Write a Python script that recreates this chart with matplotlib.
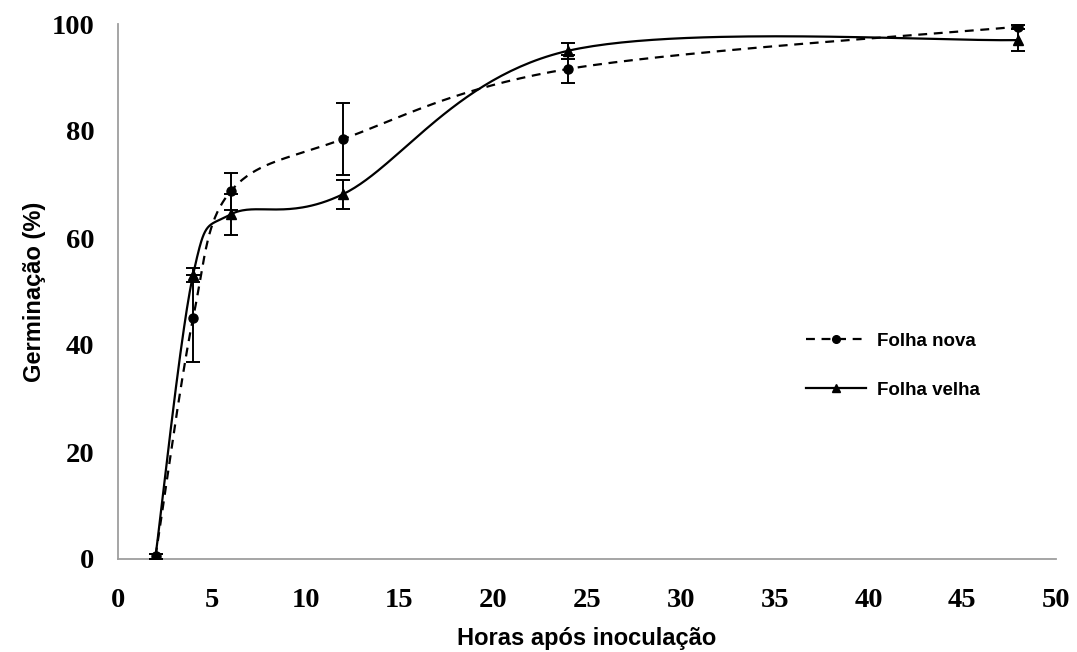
import numpy as np
import matplotlib
matplotlib.use("Agg")
import matplotlib.pyplot as plt
from matplotlib.lines import Line2D

# Data
horas = [2, 4, 6, 12, 24, 48]
folha_nova = [0.5, 45.0, 68.7, 78.5, 91.6, 99.5]
folha_nova_err = [0.5, 8.1, 3.5, 6.8, 2.6, 0.4]
folha_velha = [0.5, 53.1, 64.4, 68.2, 95.0, 97.0]
folha_velha_err = [0.5, 1.3, 3.8, 2.7, 1.5, 2.0]
xticks = [0, 5, 10, 15, 20, 25, 30, 35, 40, 45, 50]
yticks = [0, 20, 40, 60, 80, 100]

W, H, DPI = 1077, 652, 100
fig = plt.figure(figsize=(W / DPI, H / DPI), dpi=DPI)
ax = fig.add_axes([118 / W, 1 - 559 / H, (1056 - 118) / W, (559 - 24) / H])
ax.set_xlim(0, 50)
ax.set_ylim(0, 100)

# Excel-like smoothing (Catmull-Rom Bezier in screen space)
sx, sy = 18.76, 5.35


def smooth(xs, ys, n=60):
    P = np.column_stack([np.asarray(xs) * sx, np.asarray(ys) * sy])
    pts = []
    m = len(P)
    for i in range(m - 1):
        p0 = P[i - 1] if i > 0 else P[i]
        p1 = P[i]
        p2 = P[i + 1]
        p3 = P[i + 2] if i + 2 < m else P[i + 1]
        c1 = p1 + (p2 - p0) / 6.0
        c2 = p2 - (p3 - p1) / 6.0
        t = np.linspace(0, 1, n)[:, None]
        seg = ((1 - t) ** 3) * p1 + 3 * ((1 - t) ** 2) * t * c1 + 3 * (1 - t) * t ** 2 * c2 + t ** 3 * p2
        pts.append(seg if i == 0 else seg[1:])
    pts = np.vstack(pts)
    return pts[:, 0] / sx, pts[:, 1] / sy


xn, yn = smooth(horas, folha_nova)
xv, yv = smooth(horas, folha_velha)
ax.plot(xn, yn, color="black", lw=1.6, ls=(0, (4, 3)), zorder=3)
ax.plot(xv, yv, color="black", lw=1.6, ls="-", zorder=3)

ax.errorbar(horas, folha_nova, yerr=folha_nova_err, fmt="o", color="black",
            ms=6.5, capsize=5, elinewidth=1.4, capthick=1.4, zorder=4)
ax.errorbar(horas, folha_velha, yerr=folha_velha_err, fmt="^", color="black",
            ms=6.5, capsize=5, elinewidth=1.4, capthick=1.4, zorder=4)

for s in ["top", "right"]:
    ax.spines[s].set_visible(False)
for s in ["left", "bottom"]:
    ax.spines[s].set_color("#9e9e9e")
    ax.spines[s].set_linewidth(1.3)

ax.set_xticks(xticks)
ax.set_yticks(yticks)
ax.tick_params(length=0)
for lab in ax.get_xticklabels() + ax.get_yticklabels():
    lab.set_fontfamily("Liberation Serif")
    lab.set_fontweight("bold")
    lab.set_fontsize(20.5)
ax.tick_params(axis="x", pad=21)
ax.tick_params(axis="y", pad=17)

ax.set_xlabel("Horas após inoculação", fontfamily="Liberation Sans",
              fontweight="bold", fontsize=17, labelpad=10)
ax.set_ylabel("Germinação (%)", fontfamily="Liberation Sans",
              fontweight="bold", fontsize=17, labelpad=4)

handles = [
    Line2D([], [], color="black", lw=1.6, ls=(0, (4, 3)), marker="o", ms=5.5),
    Line2D([], [], color="black", lw=1.6, ls="-", marker="^", ms=5.5),
]
leg = ax.legend(handles, ["Folha nova", "Folha velha"], loc="upper left",
                bbox_to_anchor=(0.715, 0.455), frameon=False, handlelength=3.2,
                handletextpad=0.6, labelspacing=1.7,
                prop={"family": "Liberation Sans", "weight": "bold", "size": 13.5})

fig.savefig("out.png", dpi=DPI)
